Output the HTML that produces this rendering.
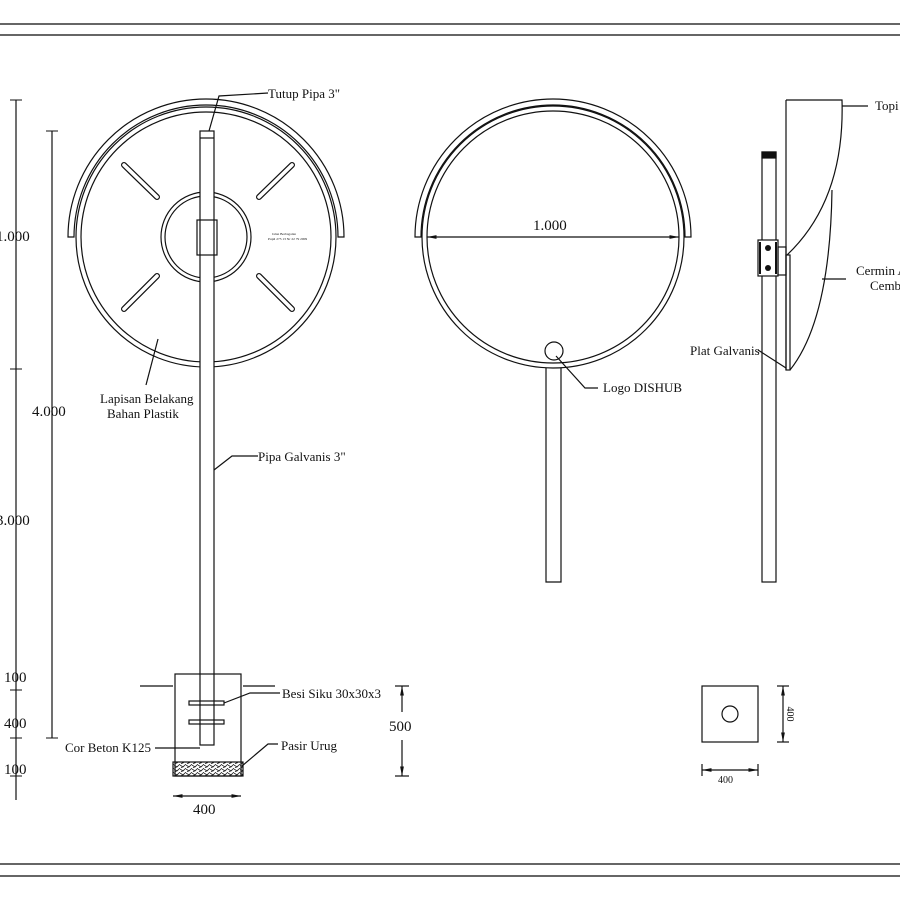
<!DOCTYPE html>
<html><head><style>body{margin:0;background:#fff}svg{display:block}text{font-family:"Liberation Serif",serif;fill:#111}</style></head><body>
<svg width="900" height="900" viewBox="0 0 900 900" xmlns="http://www.w3.org/2000/svg">
<defs>
<marker id="a" viewBox="0 0 10 10" refX="10" refY="5" markerWidth="8" markerHeight="8" orient="auto-start-reverse"><path d="M0,3 L10,5 L0,7z" fill="#111"/></marker>
<pattern id="h" width="6" height="4" patternUnits="userSpaceOnUse"><path d="M0,1 L3,3 L6,0 M1,4 L4,2" stroke="#222" stroke-width="0.8" fill="none"/></pattern>
</defs>
<g stroke="#333" stroke-width="1.5"><line x1="0" y1="24" x2="900" y2="24"/><line x1="0" y1="35" x2="900" y2="35"/><line x1="0" y1="864" x2="900" y2="864"/><line x1="0" y1="876" x2="900" y2="876"/></g>
<g fill="none" stroke="#111" stroke-width="1.2">
<!-- left view -->
<path d="M68,237 A138,138 0 0 1 344,237 L338,237 A132,132 0 0 0 74,237 Z"/>
<circle cx="206" cy="237" r="130"/><circle cx="206" cy="237" r="125"/>
<circle cx="206" cy="237" r="45"/><circle cx="206" cy="237" r="41"/>
<g stroke-width="6" stroke-linecap="round"><line x1="124" y1="165" x2="157" y2="197"/><line x1="292" y1="165" x2="259" y2="197"/><line x1="124" y1="309" x2="157" y2="276"/><line x1="292" y1="309" x2="259" y2="276"/></g>
<g stroke="#fff" stroke-width="3.6" stroke-linecap="round"><line x1="124" y1="165" x2="157" y2="197"/><line x1="292" y1="165" x2="259" y2="197"/><line x1="124" y1="309" x2="157" y2="276"/><line x1="292" y1="309" x2="259" y2="276"/></g>
<rect x="200" y="131" width="14" height="614" fill="#fff"/><line x1="200" y1="138" x2="214" y2="138"/>
<rect x="197" y="220" width="20" height="35"/>
<path d="M209,131 L219,96 L268,93"/>
<path d="M158,339 L146,385"/>
<path d="M214,470 L232,456 L258,456"/>
<!-- dims left -->
<line x1="16" y1="100" x2="16" y2="800"/>
<g stroke-width="1"><line x1="10" y1="100" x2="22" y2="100"/><line x1="10" y1="369" x2="22" y2="369"/><line x1="10" y1="690" x2="22" y2="690"/><line x1="10" y1="738" x2="22" y2="738"/><line x1="10" y1="776" x2="22" y2="776"/>
<line x1="46" y1="131" x2="58" y2="131"/><line x1="46" y1="738" x2="58" y2="738"/></g>
<line x1="52" y1="131" x2="52" y2="738"/>
<!-- foundation -->
<rect x="175" y="674" width="66" height="102"/>
<rect x="173" y="762" width="70" height="14" fill="url(#h)"/>
<rect x="173" y="674" width="70" height="102" stroke="none"/>
<line x1="140" y1="686" x2="173" y2="686"/><line x1="243" y1="686" x2="275" y2="686"/>
<rect x="189" y="701" width="35" height="4"/><rect x="189" y="720" width="35" height="4"/>
<path d="M224,703 L250,693 L280,693"/><path d="M155,748 L200,748"/><path d="M242,766 L268,744 L278,744"/>
<line x1="395" y1="686" x2="409" y2="686"/><line x1="395" y1="776" x2="409" y2="776"/>
<line x1="402" y1="686" x2="402" y2="712" marker-start="url(#a)"/><line x1="402" y1="740" x2="402" y2="776" marker-end="url(#a)"/>
<line x1="173" y1="796" x2="241" y2="796" marker-start="url(#a)" marker-end="url(#a)"/>
<!-- middle -->
<path d="M415,237 A138,138 0 0 1 691,237 L685,237 A132,132 0 0 0 421,237 Z"/>
<circle cx="553" cy="237" r="131"/><circle cx="553" cy="237" r="126"/>
<line x1="427" y1="237" x2="679" y2="237" marker-start="url(#a)" marker-end="url(#a)"/>
<circle cx="554" cy="351" r="9"/>
<path d="M546,368 L546,582 L561,582 L561,368"/>
<path d="M556,356 L585,388 L598,388"/>
<!-- right -->
<rect x="762" y="152" width="14" height="430"/><rect x="762" y="152" width="14" height="6" fill="#111"/>
<rect x="758" y="240" width="20" height="36" fill="#fff"/><rect x="778" y="247" width="8" height="28"/>
<path d="M786,100 L842,100 Q845,200 787,255"/><line x1="786" y1="100" x2="786" y2="370"/>
<rect x="786" y="255" width="4" height="115"/>
<path d="M832,190 Q830,320 790,370"/>
<line x1="842" y1="106" x2="868" y2="106"/><line x1="822" y1="279" x2="846" y2="279"/>
<path d="M758,350 L786,368"/>
<!-- base plate -->
<rect x="702" y="686" width="56" height="56"/><circle cx="730" cy="714" r="8"/>
<line x1="777" y1="686" x2="789" y2="686"/><line x1="777" y1="742" x2="789" y2="742"/>
<line x1="783" y1="686" x2="783" y2="742" marker-start="url(#a)" marker-end="url(#a)"/>
<line x1="702" y1="764" x2="702" y2="776"/><line x1="758" y1="764" x2="758" y2="776"/>
<line x1="702" y1="770" x2="758" y2="770" marker-start="url(#a)" marker-end="url(#a)"/>
</g>
<g fill="#111"><circle cx="768" cy="248" r="3"/><circle cx="768" cy="268" r="3"/></g>
<g fill="#111"><rect x="759" y="242" width="2" height="32"/><rect x="775" y="242" width="2" height="32"/></g>
<g font-size="13">
<text x="268" y="98">Tutup Pipa   3"</text>
<text x="100" y="403">Lapisan Belakang</text><text x="107" y="418">Bahan Plastik</text>
<text x="258" y="461">Pipa Galvanis   3"</text>
<text x="282" y="698">Besi Siku 30x30x3</text>
<text x="65" y="752">Cor Beton K125</text>
<text x="281" y="750">Pasir Urug</text>
<text x="603" y="392">Logo DISHUB</text>
<text x="875" y="110">Topi</text>
<text x="856" y="275">Cermin A</text><text x="870" y="290">Cemb</text>
<text x="690" y="355">Plat Galvanis</text>
</g>
<g font-size="15">
<text x="-4" y="241">1.000</text><text x="32" y="416">4.000</text><text x="-4" y="525">3.000</text>
<text x="4" y="682">100</text><text x="4" y="728">400</text><text x="4" y="774">100</text>
<text x="533" y="230">1.000</text><text x="389" y="731">500</text><text x="193" y="814">400</text>
</g>
<g font-size="10"><text x="718" y="783">400</text><text transform="translate(787,714) rotate(90)" text-anchor="middle">400</text></g>
<g font-size="3.5"><text x="272" y="235">Jalan Berbagalan</text><text x="268" y="240">Pupil 275 13 Nr 22 79 2009</text></g>
</svg>
</body></html>
